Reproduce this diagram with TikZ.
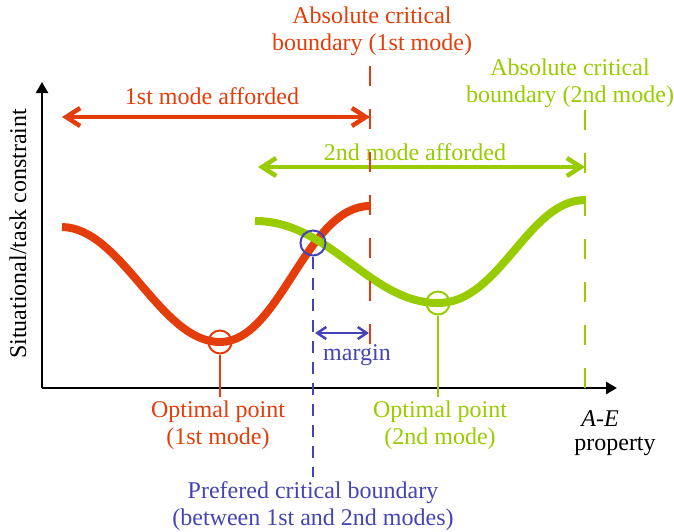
\documentclass[tikz,border=0pt]{standalone}
\usepackage{fontspec}
\setmainfont{Liberation Serif}
\usetikzlibrary{arrows.meta}
\definecolor{modeone}{RGB}{226,61,10}
\definecolor{modetwo}{RGB}{153,204,0}
\definecolor{prefered}{RGB}{68,68,180}

\begin{document}
\begin{tikzpicture}[
    x = 1pt, y = -1pt,
    font = \fontsize{24}{27}\selectfont,
    axis/.style = {line width = 2.5pt, -{Triangle[length=11pt, width=12pt]}},
    curve/.style = {line width = 8pt},
    boundary/.style = {line width = 2.8pt, dash pattern = on 20pt off 23pt},
    optimum/.style = {draw, circle, line width = 2pt, minimum size = 23pt, inner sep = 0pt},
    dropline/.style = {line width = 2.5pt},
    afforded/.style = {line width = 4.5pt,
      {Straight Barb[length=14pt, width=18pt]}-{Straight Barb[length=14pt, width=18pt]}},
    margin/.style = {line width = 2.5pt,
      {Straight Barb[length=9pt, width=12pt]}-{Straight Barb[length=9pt, width=12pt]}},
    textlabel/.style = {align = center, inner sep = 0pt}
  ]
  \useasboundingbox (0,0) rectangle (674,531);

  % Axes
  \coordinate (origin) at (42,388);
  \coordinate (ytip) at (42,82);
  \coordinate (xtip) at (617,388);
  \draw [axis] (origin) -- (ytip);
  \draw [axis] (origin) -- (xtip);

  % Curves
  \coordinate (r0) at (62,227);
  \coordinate (ropt) at (220,342);
  \coordinate (rend) at (370,206);
  \coordinate (g0) at (255,221);
  \coordinate (gopt) at (438,303);
  \coordinate (gend) at (585,200);
  \draw [curve, modeone] (r0) .. controls (122,228) and (160,342) .. (ropt)
    .. controls (280,342) and (306,206) .. (rend);
  \draw [curve, modetwo] (g0) .. controls (330,221) and (370,303) .. (gopt)
    .. controls (500,303) and (528,200) .. (gend);

  % Markers
  \node [optimum, modeone] (optone) at (ropt) {};
  \node [optimum, modetwo] (opttwo) at (gopt) {};
  \node [optimum, prefered, minimum size = 25pt] (cross) at (313,243) {};
  \coordinate (optonefoot) at (220,397);
  \coordinate (opttwofoot) at (438,397);
  \coordinate (crossfoot) at (313,477);
  \draw [dropline, modeone] (optone.south) -- (optonefoot);
  \draw [dropline, modetwo] (opttwo.south) -- (opttwofoot);

  % Afforded ranges
  \coordinate (oneleft) at (62,117);
  \coordinate (oneright) at (370,117);
  \coordinate (twoleft) at (258,167);
  \coordinate (tworight) at (585,167);
  \draw [afforded, modeone] (oneleft) -- (oneright);
  \draw [afforded, modetwo] (twoleft) -- (tworight);

  % Labels
  \begin{scope}[nodes = {textlabel}]
    \node [modeone] (onetext) at (212,96) {1st mode afforded};
    \node [modetwo] (twotext) at (415,152) {2nd mode afforded};
    \node [modeone] (oneabs) at (372,31) {Absolute critical\\boundary (1st mode)};
    \node [modetwo] (twoabs) at (570,83) {Absolute critical\\boundary (2nd mode)};
    \node [modeone] (oneopt) at (218,425) {Optimal point\\(1st mode)};
    \node [modetwo] (twoopt) at (440,425) {Optimal point\\(2nd mode)};
    \node [prefered] (preftext) at (313,506) {Prefered critical boundary\\(between 1st and 2nd modes)};
    \node [prefered] (margintext) at (357,355) {margin};
    \node (aetext) at (600,419) {\textit{A-E}};
    \node (proptext) at (615,446) {property};
    \node [rotate = 90] (ytext) at (18,234) {Situational/task constraint};
  \end{scope}

  % Boundaries
  \coordinate (onetop) at (370,66);
  \coordinate (onefoot) at (370,344);
  \coordinate (twotop) at (585,90);
  \coordinate (twofoot) at (585,388);
  \draw [boundary, modeone] (onetop) -- (onefoot);
  \draw [boundary, modetwo] (twofoot) -- (twotop);
  \draw [boundary, prefered, dash pattern = on 12pt off 9pt] (cross.south) -- (crossfoot);
  \coordinate (marginleft) at (315,333);
  \coordinate (marginright) at (369,333);
  \draw [margin, prefered] (marginleft) -- (marginright);
\end{tikzpicture}
\end{document}
